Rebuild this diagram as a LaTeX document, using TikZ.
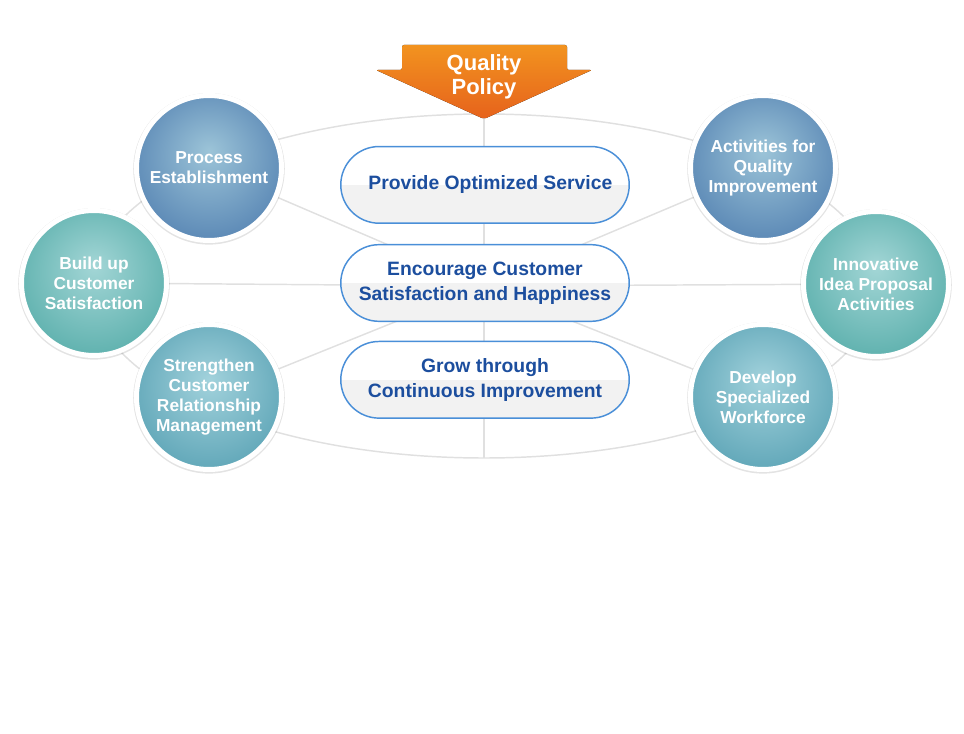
\documentclass[tikz,border=0pt]{standalone}
\usepackage{fontspec}
\setmainfont{Liberation Sans}
\usepackage{tikz}
\usetikzlibrary{positioning,shapes.misc,shadows,backgrounds}
\definecolor{policytop}{HTML}{F2931F}
\definecolor{policybot}{HTML}{E6621C}
\definecolor{pillline}{HTML}{4A8FD8}
\definecolor{pilltext}{HTML}{1C4E9E}
\definecolor{pillshade}{HTML}{F2F2F2}
\definecolor{spokegray}{HTML}{E0E0E0}
\definecolor{steelin}{HTML}{9CC4D8}
\definecolor{steelout}{HTML}{5E8BB7}
\definecolor{tealin}{HTML}{A3D6D6}
\definecolor{tealout}{HTML}{62B3B0}
\definecolor{aquain}{HTML}{A2D2DC}
\definecolor{aquaout}{HTML}{64A9BA}
\pgfdeclareradialshading{steelball}{\pgfpoint{0bp}{6bp}}{color(0bp)=(steelin); color(27bp)=(steelout); color(50bp)=(steelout)}
\pgfdeclareradialshading{tealball}{\pgfpoint{0bp}{6bp}}{color(0bp)=(tealin); color(27bp)=(tealout); color(50bp)=(tealout)}
\pgfdeclareradialshading{aquaball}{\pgfpoint{0bp}{6bp}}{color(0bp)=(aquain); color(27bp)=(aquaout); color(50bp)=(aquaout)}

\begin{document}
\begin{tikzpicture}[
  x=0.75pt, y=-0.75pt,
  every node/.style={font=\bfseries},
  goal/.style={circle, draw=white, line width=3.75pt, minimum size=108.75pt, inner sep=0pt,
               align=center, text=white, font=\bfseries\fontsize{13}{15}\selectfont,
               drop shadow={shadow xshift=0pt, shadow yshift=-0.6pt, shadow scale=1.045, opacity=0.11, fill=black}},
  steelgoal/.style={goal, shading=steelball},
  tealgoal/.style={goal, shading=tealball},
  aquagoal/.style={goal, shading=aquaball},
  pill/.style={rounded rectangle, draw=pillline, fill=white, line width=1.1pt, minimum width=223pt,
               minimum height=57.5pt, align=center, text=pilltext, font=\bfseries\fontsize{14.5}{18.5}\selectfont,
               path picture={\fill[pillshade] (path picture bounding box.west) rectangle (path picture bounding box.south east);}},
  spoke/.style={draw=spokegray, line width=1.1pt},
]
  \useasboundingbox (0,0) rectangle (964,734);
  \coordinate (hub) at (484,286);
  \coordinate (tip) at (484,114);
  \coordinate (base) at (484,458);

  \fill[top color=policytop, bottom color=policybot, rounded corners=1.5pt]
    (402,45) -- (567,45) -- (567,70) -- (592,70) -- (484,119) -- (376,70) -- (402,70) -- cycle;
  \node[text=white, align=center, font=\bfseries\fontsize{16.5}{18}\selectfont] (policy) at (484,77) {Quality\\Policy};

  \node[pill] (happy) at (485,283) {Encourage Customer\\Satisfaction and Happiness};
  \node[pill, above=15pt of happy] (service) {\hspace*{8pt}Provide Optimized Service};
  \node[pill, below=14pt of happy] (improve) {Grow through\\Continuous Improvement};

  \node[steelgoal] (process) at (209,168) {Process\\Establishment};
  \node[tealgoal] (buildup) at (94,283) {Build up\\Customer\\Satisfaction};
  \node[aquagoal] (strengthen) at (209,397) {Strengthen\\Customer\\Relationship\\Management};
  \node[steelgoal] (activities) at (763,168) {Activities for\\Quality\\Improvement};
  \node[tealgoal] (innovative) at (876,284) {Innovative\\Idea Proposal\\Activities};
  \node[aquagoal] (workforce) at (763,397) {Develop\\Specialized\\Workforce};

  \begin{scope}[on background layer]
    \draw[spoke] (hub) ellipse [x radius=393, y radius=172];
    \draw[spoke] (tip) -- (base);
    \foreach \g in {process,buildup,strengthen,activities,innovative,workforce}
      \draw[spoke] (hub) -- (\g);
  \end{scope}
\end{tikzpicture}
\end{document}
